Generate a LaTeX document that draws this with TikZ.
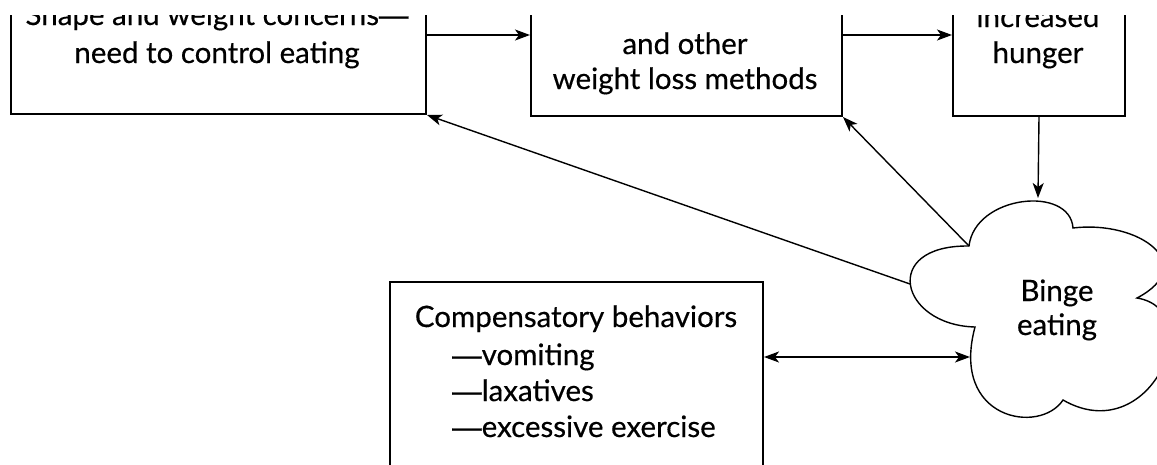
\documentclass[tikz,border=0pt]{standalone}
\usepackage{fontspec}
\setmainfont{Lato}[FakeBold=0.4,AutoFakeBold=0]
\newfontfamily\dashfont{Liberation Sans}[FakeBold=0.4,Ligatures=TeX]
\newcommand{\emd}{{\dashfont ---}}
\usetikzlibrary{arrows.meta,positioning}

\begin{document}
\begin{tikzpicture}[x=1pt,y=-1pt,
	box/.style={draw,line width=2pt,inner sep=0pt,anchor=north west},
	txt/.style={font=\fontsize{29.5}{37}\selectfont,align=center,inner sep=0pt,anchor=base},
	link/.style={line width=1.4pt,-{Stealth[length=15pt,width=11pt,inset=4pt]}},
	both/.style={link,{Stealth[length=15pt,width=11pt,inset=4pt]}-{Stealth[length=15pt,width=11pt,inset=4pt]}}]
	\useasboundingbox (0,0) rectangle (1157,464);
	\clip (0,15) rectangle (1157,464);

	\node[box,minimum width=415pt,minimum height=173pt] (concern) at (10,-60) {};
	\node[box,minimum width=311pt,minimum height=175pt] (diet) at (530,-60) {};
	\node[box,minimum width=172pt,minimum height=175pt] (hunger) at (952,-60) {};
	\node[box,minimum width=373pt,minimum height=250pt] (comp) at (389,281) {};

	\node[txt,font=\fontsize{29.5}{38}\selectfont] (concerntxt) at (217,63) {Shape and weight concerns\emd\\need to control eating};
	\node[txt,font=\fontsize{29.5}{35}\selectfont] (diettxt) at (685,89) {and other\\weight loss methods};
	\node[txt,font=\fontsize{29.5}{36}\selectfont] (hungertxt) at (1038,63) {increased\\hunger};
	\node[txt] (comptitle) at (576,327) {Compensatory behaviors};
	\node[txt,align=left,anchor=base west,font=\fontsize{29.5}{36}\selectfont] (complist) at (452,437) {\emd vomiting\\\emd laxatives\\\emd excessive exercise};

	\draw[line width=1.4pt] (969,246) coordinate (cA)
		.. controls (975,195) and (1070,185) .. (1073,228)
		.. controls (1140,220) and (1200,265) .. (1137,298)
		.. controls (1210,310) and (1150,450) .. (1063,400)
		.. controls (1040,435) and (950,420) .. (975,327)
		.. controls (900,325) and (880,245) .. cycle;
	\coordinate (ctop) at (1038,198);
	\coordinate (cL) at (910,284);
	\coordinate (cR) at (970,357);
	\node[txt,font=\fontsize{29.5}{34}\selectfont] (binge) at (1057,335) {Binge\\eating};

	\draw[link] (concern.east |- 0,35) -- (diet.west |- 0,35);
	\draw[link] (diet.east |- 0,35) -- (hunger.west |- 0,35);
	\draw[link] (hunger.south) -- (ctop);
	\draw[link] (cA) -- (diet.south east);
	\draw[link] (cL) -- (concern.south east);
	\draw[both] (comp.east |- 0,357) -- (cR);
\end{tikzpicture}
\end{document}
